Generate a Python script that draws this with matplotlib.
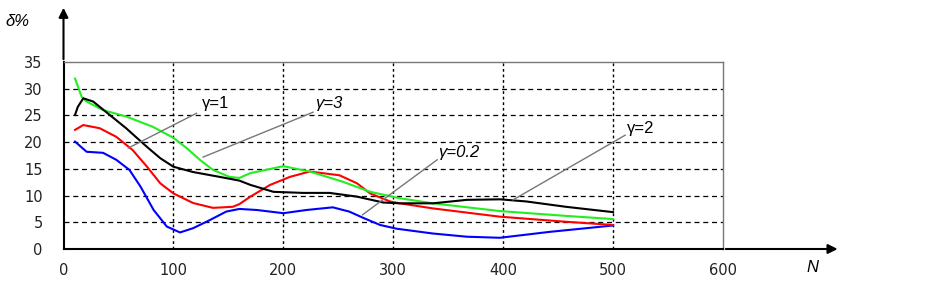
import matplotlib
matplotlib.use("Agg")
import matplotlib.pyplot as plt

plt.rcParams['font.family'] = ['Liberation Sans', 'DejaVu Sans']

# gamma = 3 (green)
n_g3 = [10.5, 16.5, 21, 36, 57, 81, 100, 112, 124, 136, 151, 160, 170, 200, 224, 254, 279, 306, 336, 397, 457, 500]
d_g3 = [31.9, 28.5, 27.6, 26, 24.8, 22.9, 20.8, 18.9, 16.7, 14.8, 13.5, 13.3, 14.2, 15.5, 14.5, 12.6, 10.7, 9.5, 8.55, 7.1, 6.2, 5.6]
# gamma = 2 (black)
n_g2 = [10.5, 13, 18, 27, 42, 57, 76, 88, 100, 118, 142, 160, 170, 191, 218, 242, 267, 291, 306, 336, 367, 397, 421, 457, 500]
d_g2 = [25.1, 26.6, 28.2, 27.6, 25.1, 22.6, 19.1, 17, 15.4, 14.4, 13.5, 12.8, 12, 10.7, 10.5, 10.5, 9.8, 8.7, 8.55, 8.55, 9.2, 9.3, 8.9, 7.9, 6.9]
# gamma = 1 (red)
n_g1 = [10.5, 18, 33, 48, 63, 76, 88, 100, 118, 136, 154, 160, 170, 188, 206, 224, 251, 267, 279, 297, 306, 336, 397, 457, 500]
d_g1 = [22.3, 23.2, 22.6, 21, 18.5, 15.4, 12.3, 10.4, 8.6, 7.7, 7.9, 8.4, 9.8, 12, 13.5, 14.5, 13.8, 12.3, 10.4, 8.9, 8.55, 7.6, 6.05, 5.1, 4.5]
# gamma = 0.2 (blue)
n_g02 = [10.5, 21, 36, 48, 60, 70, 82, 94, 106, 118, 133, 148, 160, 176, 200, 221, 245, 260, 273, 288, 303, 336, 367, 397, 442, 500]
d_g02 = [20.1, 18.2, 18, 16.7, 14.8, 11.7, 7.3, 4.2, 3.1, 3.9, 5.4, 7, 7.5, 7.3, 6.7, 7.3, 7.8, 7, 5.8, 4.5, 3.8, 2.9, 2.3, 2.1, 3.2, 4.4]

x_ticks = [0, 100, 200, 300, 400, 500, 600]
y_ticks = [0, 5, 10, 15, 20, 25, 30, 35]

fig = plt.figure(figsize=(9.35, 2.85), dpi=100)
ax = fig.add_axes([63.5/935, 36/285, (723-63.5)/935, (249-62)/285])
ax.set_xlim(0, 600)
ax.set_ylim(0, 35)

for y in y_ticks[1:-1]:
    ax.axhline(y, color='black', lw=0.9, ls=(0, (4, 3)), zorder=1)
for x in x_ticks[1:-1]:
    ax.axvline(x, color='black', lw=1.0, ls=(0, (2, 2)), zorder=1)

ax.plot(n_g02, d_g02, color='#0000ff', lw=1.5, zorder=3)
ax.plot(n_g1, d_g1, color='#ff0000', lw=1.5, zorder=3)
ax.plot(n_g3, d_g3, color='#22ee22', lw=1.5, zorder=3)
ax.plot(n_g2, d_g2, color='black', lw=1.5, zorder=3)

for side in ['top', 'right']:
    ax.spines[side].set_color('#777777')
    ax.spines[side].set_linewidth(1.0)
for side in ['left', 'bottom']:
    ax.spines[side].set_color('black')
    ax.spines[side].set_linewidth(1.5)

ax.set_xticks(x_ticks)
ax.set_yticks(y_ticks)
ax.tick_params(length=0, labelsize=10.5)
ax.tick_params(axis='y', pad=15)
ax.tick_params(axis='x', pad=10)
for lab in ax.get_xticklabels() + ax.get_yticklabels():
    lab.set_family('DejaVu Sans')
    lab.set_color('#222222')

# arrows
ax.annotate('', xy=(0, 1.305), xytext=(0, 1.0), xycoords='axes fraction',
            arrowprops=dict(arrowstyle='-|>', color='black', lw=1.5, mutation_scale=14))
ax.annotate('', xy=(1.178, 0), xytext=(1.0, 0), xycoords='axes fraction',
            arrowprops=dict(arrowstyle='-|>', color='black', lw=1.5, mutation_scale=14))

fig.text(5/935, 1 - 22/285, 'δ%', fontsize=12, style='italic', va='center', ha='left')
fig.text(812/935, 1 - 268/285, 'N', fontsize=12, style='italic', va='center', ha='center')

# annotations
ann = dict(color='#777777', lw=1.0)
ax.plot([121, 59], [25.4, 18.9], clip_on=False, zorder=4, **ann)
ax.text(126, 27.3, 'γ=1', fontsize=12, va='center', ha='left')
ax.plot([227, 127], [25.6, 17.2], clip_on=False, zorder=4, **ann)
ax.text(229, 27.3, 'γ=3', fontsize=12, va='center', ha='left', style='italic')
ax.plot([340, 272], [16.7, 6.4], clip_on=False, zorder=4, **ann)
ax.text(341, 18, 'γ=0.2', fontsize=12, va='center', ha='left', style='italic')
ax.plot([511, 409], [21.3, 9.2], clip_on=False, zorder=4, **ann)
ax.text(513, 22.6, 'γ=2', fontsize=12, va='center', ha='left')

fig.savefig('out.png', dpi=100)
